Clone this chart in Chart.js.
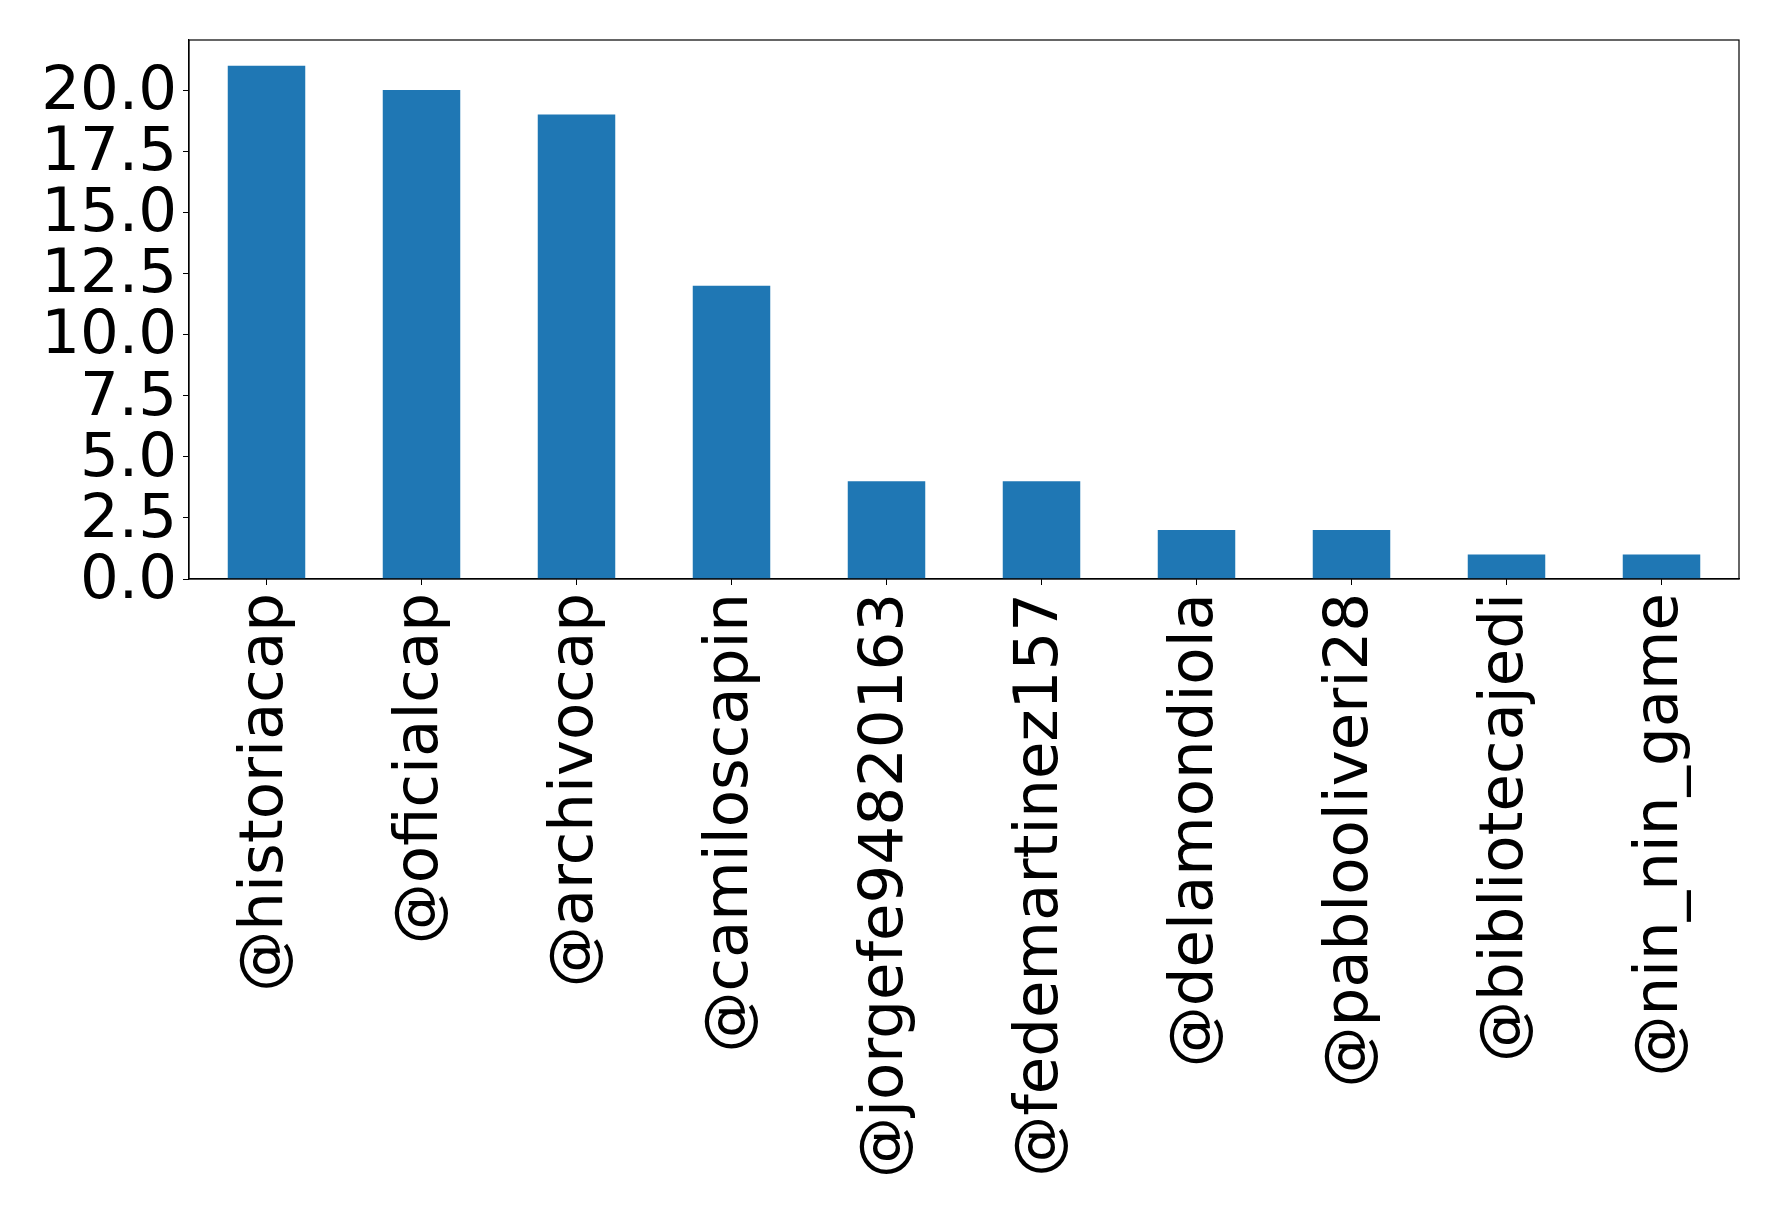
<!DOCTYPE html>
<html>
<head>
<meta charset="utf-8">
<script src="https://cdn.jsdelivr.net/npm/chart.js@4"></script>
<style>
  html, body { margin: 0; padding: 0; background: #fff; }
  canvas { display: block; }
</style>
</head>
<body>
<canvas id="barChart" width="1778" height="1228"></canvas>
<script>
'use strict';

/* ---- data ---- */
const accounts = [
  '@historiacap', '@oficialcap', '@archivocap', '@camiloscapin',
  '@jorgefe94820163', '@fedemartinez157', '@delamondiola',
  '@pablooliveri28', '@bibliotecajedi', '@nin_nin_game'
];
const counts = [21, 20, 19, 12, 4, 4, 2, 2, 1, 1];
const yTicks = [0, 2.5, 5, 7.5, 10, 12.5, 15, 17.5, 20];
const yMax = 22.05;

/* ---- frame around the plot area, like matplotlib's spines ---- */
const frameBox = {
  id: 'frameBox',
  afterDraw(chart) {
    const a = chart.chartArea;
    const ctx = chart.ctx;
    ctx.save();
    ctx.strokeStyle = '#000';
    ctx.lineWidth = 1.2;
    ctx.strokeRect(a.left, a.top, a.right - a.left, a.bottom - a.top);
    ctx.restore();
  }
};

const FONT = { family: '"DejaVu Sans", sans-serif', size: 61 };

new Chart(document.getElementById('barChart'), {
  type: 'bar',
  data: {
    labels: accounts,
    datasets: [{
      data: counts,
      backgroundColor: '#1f77b4',
      barPercentage: 0.5,
      categoryPercentage: 1.0
    }]
  },
  options: {
    responsive: false,
    animation: false,
    devicePixelRatio: 1,
    layout: { padding: { top: 40, right: 39, left: 0, bottom: 0 } },
    plugins: { legend: { display: false }, tooltip: { enabled: false } },
    scales: {
      x: {
        grid: { display: true, drawOnChartArea: false, offset: false, tickLength: 6, color: '#000' },
        border: { display: true, color: '#000', width: 1.2 },
        ticks: {
          autoSkip: false, minRotation: 90, maxRotation: 90,
          padding: 8, color: '#000', font: FONT
        },
        afterFit(scale) {
          scale.height = 649;
          scale.paddingLeft = 0;
          scale.paddingRight = 0;
        }
      },
      y: {
        min: 0,
        max: yMax,
        grid: { display: true, drawOnChartArea: false, tickLength: 6, color: '#000' },
        border: { display: true, color: '#000', width: 1.2 },
        ticks: {
          autoSkip: false,
          padding: 6, labelOffset: 3, color: '#000', font: FONT,
          callback: v => v.toFixed(1)
        },
        afterBuildTicks(scale) { scale.ticks = yTicks.map(v => ({ value: v })); },
        afterFit(scale) {
          scale.width = 189;
          scale.paddingTop = 0;
          scale.paddingBottom = 0;
        }
      }
    }
  },
  plugins: [frameBox]
});
</script>
</body>
</html>
